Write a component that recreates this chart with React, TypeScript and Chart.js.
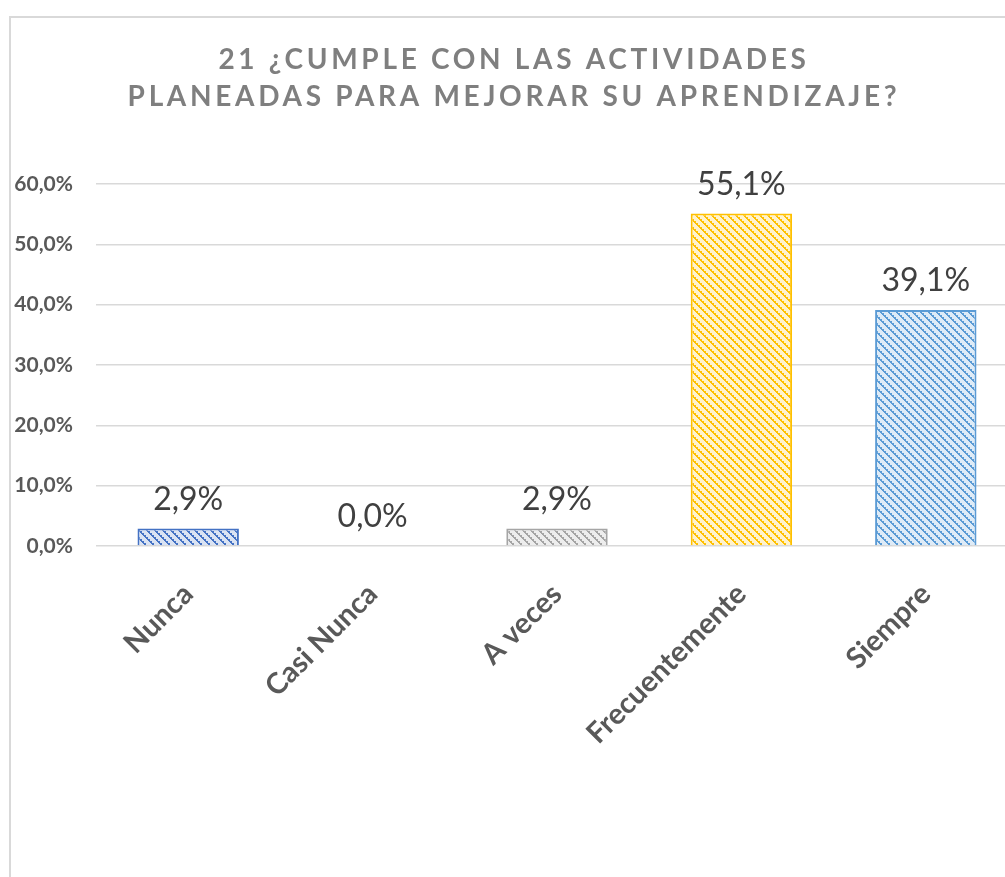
import React, { useEffect, useRef } from "react";
import { Chart, registerables } from "chart.js";

Chart.register(...registerables);

const categories = ["Nunca", "Casi Nunca", "A veces", "Frecuentemente", "Siempre"];
const values = [2.9, 0.0, 2.9, 55.1, 39.1];
const titleLines = ["21 ¿CUMPLE CON LAS ACTIVIDADES", "PLANEADAS PARA MEJORAR SU APRENDIZAJE?"];
const fgColors = ["#4472C4", "#ED7D31", "#A5A5A5", "#FFC000", "#5B9BD5"];
const bgColors = ["#DAE3F3", "#FBE5D6", "#EDEDED", "#FFF2CC", "#DEEBF7"];
const yMin = 0;
const yMax = 60;
const yStep = 10;

const FONT = "Lato, 'Open Sans', sans-serif";

function fmt(v: number): string {
  return v.toFixed(1).replace(".", ",") + "%";
}

function makePattern(fg: string, bg: string): CanvasPattern | string {
  const n = 8;
  const tile = document.createElement("canvas");
  tile.width = n;
  tile.height = n;
  const c = tile.getContext("2d");
  if (!c) return fg;
  c.fillStyle = bg;
  c.fillRect(0, 0, n, n);
  c.fillStyle = fg;
  for (let y = 0; y < n; y++) {
    for (let x = 0; x < n; x++) {
      const d = (((x - y) % n) + n) % n;
      if (d < 3 && !(d === 2 && y % 2 === 0)) c.fillRect(x, y, 1, 1);
    }
  }
  const ctx = document.createElement("canvas").getContext("2d");
  const p = ctx ? ctx.createPattern(tile, "repeat") : null;
  return p || fg;
}

const titlePlugin = {
  id: "excelTitle",
  afterDraw(chart: any) {
    const ctx = chart.ctx as CanvasRenderingContext2D;
    ctx.save();
    ctx.font = `bold 28px ${FONT}`;
    ctx.fillStyle = "#7F7F7F";
    ctx.textAlign = "center";
    ctx.textBaseline = "alphabetic";
    (ctx as any).letterSpacing = "3.7px";
    const baselines = [69, 106];
    titleLines.forEach((line, i) => {
      ctx.fillText(line, 514, baselines[i]);
    });
    ctx.restore();
  },
};

const dataLabelPlugin = {
  id: "barValueLabels",
  afterDatasetsDraw(chart: any) {
    const ctx = chart.ctx as CanvasRenderingContext2D;
    const meta = chart.getDatasetMeta(0);
    ctx.save();
    ctx.font = `32px ${FONT}`;
    ctx.fillStyle = "#404040";
    ctx.textAlign = "center";
    ctx.textBaseline = "alphabetic";
    meta.data.forEach((bar: any, i: number) => {
      ctx.fillText(fmt(values[i]), bar.x, bar.y - 19);
    });
    ctx.restore();
  },
};

export default function App() {
  const ref = useRef<HTMLCanvasElement | null>(null);

  useEffect(() => {
    if (!ref.current) return;
    const patterns = fgColors.map((fg, i) => makePattern(fg, bgColors[i]));
    const chart = new Chart(ref.current, {
      type: "bar",
      data: {
        labels: categories,
        datasets: [
          {
            data: values,
            backgroundColor: patterns as any,
            borderColor: fgColors,
            borderWidth: 2,
            categoryPercentage: 1,
            barPercentage: 0.55,
          },
        ],
      },
      options: {
        responsive: false,
        animation: false,
        events: [],
        layout: { padding: { left: 0, right: 22, top: 184, bottom: 0 } },
        plugins: {
          legend: { display: false },
          title: { display: false },
          tooltip: { enabled: false },
        },
        scales: {
          x: {
            grid: { display: false },
            border: { display: false },
            ticks: {
              color: "#595959",
              font: { family: FONT, size: 29, weight: "bold" },
              minRotation: 45,
              maxRotation: 45,
              autoSkip: false,
              padding: 23,
            },
            afterFit(scale: any) {
              scale.height = 331;
            },
          },
          y: {
            min: yMin,
            max: yMax,
            border: { display: false },
            grid: { color: "#D9D9D9", lineWidth: 1.5, drawTicks: false },
            ticks: {
              stepSize: yStep,
              color: "#595959",
              font: { family: FONT, size: 21, weight: "bold" },
              padding: 23,
              callback: (v: any) => fmt(Number(v)),
            },
            afterFit(scale: any) {
              scale.width = 96;
            },
          },
        },
      },
      plugins: [titlePlugin, dataLabelPlugin],
    });
    return () => chart.destroy();
  }, []);

  return (
    <div
      style={{
        position: "fixed",
        left: 0,
        top: 0,
        width: 1005,
        height: 877,
        overflow: "hidden",
        background: "#FFFFFF",
      }}
    >
      <div
        style={{
          position: "absolute",
          left: 9,
          top: 16,
          width: 1100,
          height: 1000,
          border: "2px solid #D9D9D9",
          boxSizing: "border-box",
        }}
      />
      <canvas
        ref={ref}
        width={1040}
        height={877}
        style={{ position: "absolute", left: 0, top: 0, width: 1040, height: 877 }}
      />
    </div>
  );
}
